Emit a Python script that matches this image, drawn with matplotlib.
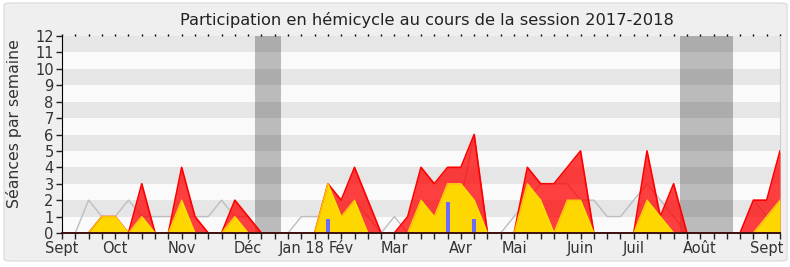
import numpy as np
import matplotlib
matplotlib.use("Agg")
import matplotlib.pyplot as plt
from matplotlib.patches import FancyBboxPatch

# ---- data (weekly, session 2017-2018) ----
weeks = list(range(55))
presence = [0, 0, 0, 1, 1, 0, 3, 0, 0, 4, 1, 0, 0, 2, 1, 0, 0, 0, 0, 0,
            3, 2, 4, 2, 0, 0, 1, 4, 3, 4, 4, 6, 0, 0, 0, 4, 3, 3, 4, 5,
            0, 0, 0, 0, 5, 1, 3, 0, 0, 0, 0, 0, 2, 2, 5]
interventions = [0, 0, 0, 1, 1, 0, 1, 0, 0, 2, 0, 0, 0, 1, 0, 0, 0, 0, 0, 0,
                 3, 1, 2, 0, 0, 0, 0, 2, 1, 3, 3, 2, 0, 0, 0, 3, 2, 0, 2, 2,
                 0, 0, 0, 0, 2, 1, 0, 0, 0, 0, 0, 0, 0, 1, 2]
mediane = [0, 0, 2, 1, 1, 2, 1, 1, 1, 1, 1, 1, 2, 1, 1, 0, 0, 0, 1, 1,
           1, 1, 2, 1, 0, 1, 0, 1, 1, 2, 2, 6, 0, 0, 1, 2, 3, 3, 3, 2,
           2, 1, 1, 2, 3, 2, 1, 0, 0, 0, 0, 0, 2, 1, 1]
questions_weeks = [20, 29, 31]
questions_vals = [0.85, 1.87, 0.85]
vacances = [(14.5, 16.5), (46.5, 50.5)]
month_pos = [0, 4, 9, 14, 18, 21, 25, 30, 34, 39, 43, 48, 53]
month_labels = ["Sept", "Oct", "Nov", "Déc", "Jan 18", "Fév", "Mar", "Avr",
                "Mai", "Juin", "Juil", "Août", "Sept"]

plt.rcParams['font.family'] = ['DejaVu Sans']

fig = plt.figure(figsize=(7.9, 2.67), dpi=100, facecolor='white')
# rounded panel
panel = FancyBboxPatch((4/790, 6/267), 783/790, 258/267,
                       boxstyle="round,pad=0,rounding_size=0.008",
                       transform=fig.transFigure, facecolor='#efefef',
                       edgecolor='#dedede', lw=1, zorder=-10)
fig.patches.append(panel)

ax = fig.add_axes([62/790, 1 - 233/267, 718/790, 197/267])
ax.set_xlim(0, 54)
ax.set_ylim(0, 12)

# background bands
for k in range(12):
    ax.axhspan(k, k + 1, color='#e6e6e6' if k % 2 else '#fafafa', lw=0, zorder=0)
# vacations
for a, b in vacances:
    ax.axvspan(a, b, color='black', alpha=0.25, lw=0, zorder=1)

x = np.array(weeks)
ax.plot(x, mediane, color='#bdbdbd', lw=1, zorder=2)
ax.fill_between(x, 0, presence, color='#ff0000', alpha=0.75, lw=0, zorder=3)
ax.plot(x, presence, color='#ff0000', lw=1.2, zorder=3.5)
ax.fill_between(x, 0, interventions, color='#ffd700', lw=0, zorder=4)
ax.plot(x, interventions, color='#ffee00', lw=1, alpha=0.8, zorder=4.5)
ax.bar(questions_weeks, questions_vals, width=0.3, color='#6b6bff', zorder=5)

# axes styling
ax.spines['top'].set_visible(False)
ax.spines['right'].set_color('#cfcfcf')
ax.spines['left'].set_color('black')
ax.spines['bottom'].set_color('#3a1010')
ax.spines['bottom'].set_linewidth(1.4)
ax.spines['bottom'].set_zorder(6)

ax.set_yticks(range(13))
ax.set_yticklabels([str(v) for v in range(13)], fontsize=10.5, color='#333333')
ax.set_xticks(month_pos)
ax.set_xticklabels(month_labels, fontsize=10.5, color='#333333')
ax.set_xticks(weeks, minor=True)
ax.tick_params(axis='x', which='both', length=4, width=1, color='#222222', pad=2)
ax.tick_params(axis='y', length=4, width=1, color='#222222', pad=2)

top = ax.secondary_xaxis('top')
top.set_xticks(weeks)
top.set_xticklabels([])
top.tick_params(length=1.5, width=1, color='black')
top.spines['top'].set_visible(False)

fig.text(14/790, 1 - 124/267, "Séances par semaine", rotation=90, fontsize=11.3,
         color='#333333', ha='center', va='center')
ax.set_title("Participation en hémicycle au cours de la session 2017-2018",
             fontsize=11.7, color='#222222', pad=8, x=0.508)

fig.savefig("out.png", dpi=100, facecolor=fig.get_facecolor())
